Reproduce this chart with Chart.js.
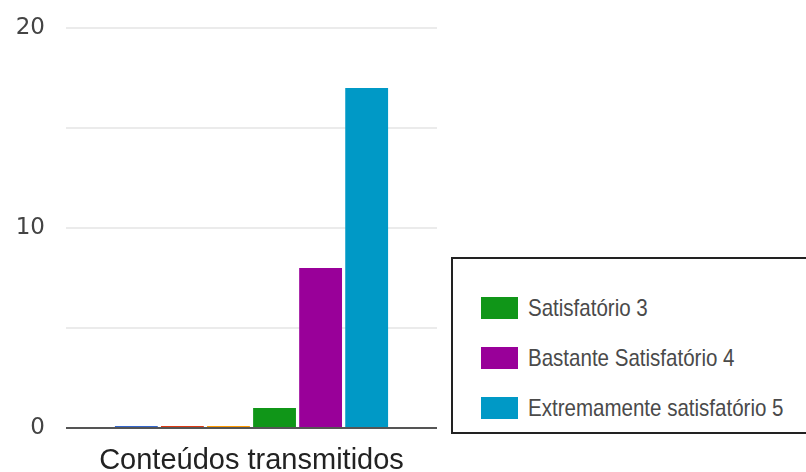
<!DOCTYPE html>
<html>
<head>
<meta charset="utf-8">
<script src="https://cdn.jsdelivr.net/npm/chart.js@4"></script>
<style>
  body { margin: 0; background: #fff; }
  #wrap { position: relative; width: 806px; height: 472px; overflow: hidden; }
  #legend {
    position: absolute; left: 451px; top: 257px; width: 380px; height: 177px;
    border: 2px solid #222; box-sizing: border-box; background: #fff;
    font-family: "Liberation Sans", Arial, sans-serif;
    font-size: 24px; color: #4a4a4a;
  }
  .item { position: absolute; left: 28px; height: 22px; display: flex; align-items: center; white-space: nowrap; }
  .swatch { width: 37px; height: 22px; margin-right: 10px; flex: none; }
  .text { display: inline-block; transform: scaleX(0.855); transform-origin: left center; }
</style>
</head>
<body>
<div id="wrap">
  <canvas id="chart" width="806" height="472"></canvas>
  <div id="legend"></div>
</div>
<script>
const categories = ["Conteúdos transmitidos"];
const seriesLabels = [
  "Nada satisfatório 0",
  "Pouco satisfatório 1",
  "Razoável 2",
  "Satisfatório 3",
  "Bastante Satisfatório 4",
  "Extremamente satisfatório 5",
];
const seriesValues = [[0], [0], [0], [1], [8], [17]];
const seriesColors = ["#3366cc", "#dc3912", "#ff9900", "#109618", "#990099", "#0099c6"];
const legendSeries = [3, 4, 5];
const yLabels = [0, 10, 20];

const datasets = seriesLabels.map((label, i) => ({
  label: label,
  data: seriesValues[i],
  backgroundColor: seriesColors[i],
  borderWidth: 0,
  minBarLength: 2,
  categoryPercentage: 0.745,
  barPercentage: 0.93,
}));

const config = {
  type: "bar",
  data: {
    labels: categories,
    datasets: datasets,
  },
  options: {
    responsive: false,
    animation: false,
    devicePixelRatio: 1,
    layout: {
      padding: { top: 28, right: 369, left: 0, bottom: 0 },
    },
    scales: {
      y: {
        min: 0,
        max: 20,
        ticks: {
          stepSize: 5,
          padding: 21,
          color: "#444",
          font: { family: "DejaVu Sans", size: 23 },
          callback: (v) => (yLabels.includes(v) ? v : ""),
        },
        grid: {
          drawTicks: false,
          color: (ctx) => (ctx.tick.value === 0 ? "#555" : "#ebebeb"),
          lineWidth: 2,
        },
        border: { display: false },
        afterFit: (scale) => {
          // fixed axis width; label padding should not push the plot down
          scale.width = 66;
          scale.paddingTop = 0;
          scale.paddingBottom = 0;
        },
      },
      x: {
        grid: { display: false },
        border: { display: false },
        ticks: {
          padding: 8,
          color: "#222",
          font: { family: "Liberation Sans", size: 29 },
        },
        afterFit: (scale) => {
          scale.height = 44;
        },
      },
    },
    plugins: {
      legend: { display: false },
      tooltip: { enabled: false },
    },
  },
};

const ctx = document.getElementById("chart").getContext("2d");
const myChart = new Chart(ctx, config);

// boxed legend on the right, only the answered levels
const legendBox = document.getElementById("legend");
legendSeries.forEach((idx, n) => {
  const item = document.createElement("div");
  item.className = "item";
  item.style.top = 38 + n * 50 + "px";
  const swatch = document.createElement("span");
  swatch.className = "swatch";
  swatch.style.background = seriesColors[idx];
  const text = document.createElement("span");
  text.className = "text";
  text.textContent = seriesLabels[idx];
  item.appendChild(swatch);
  item.appendChild(text);
  legendBox.appendChild(item);
});
</script>
</body>
</html>
